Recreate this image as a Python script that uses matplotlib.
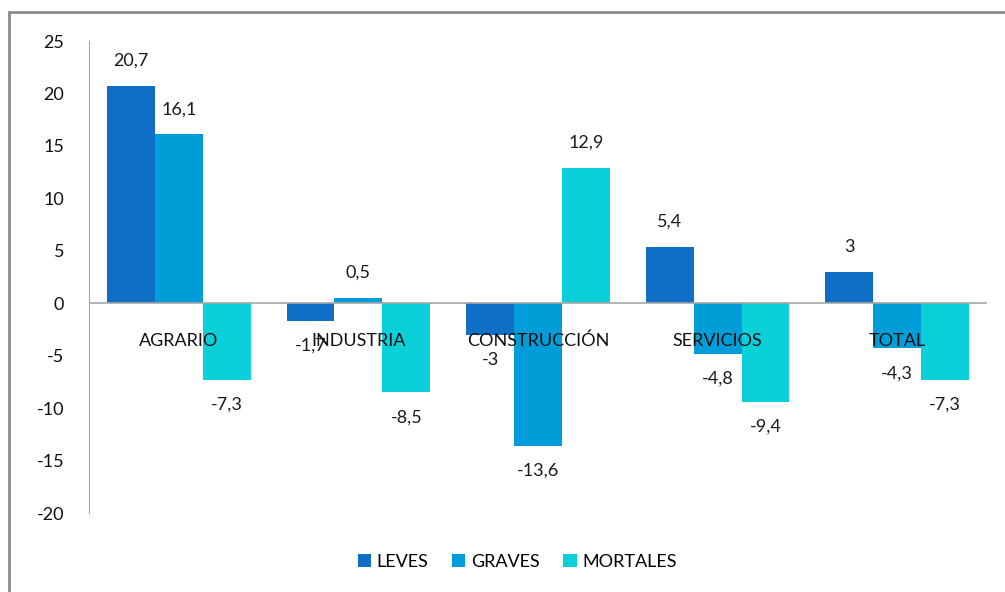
import matplotlib.pyplot as plt
from matplotlib.patches import Rectangle
import numpy as np

sectores = ['AGRARIO', 'INDUSTRIA', 'CONSTRUCCIÓN', 'SERVICIOS', 'TOTAL']
leves = [20.7, -1.7, -3, 5.4, 3]
graves = [16.1, 0.5, -13.6, -4.8, -4.3]
mortales = [-7.3, -8.5, 12.9, -9.4, -7.3]
series = ['LEVES', 'GRAVES', 'MORTALES']
colores = ['#0F6FC6', '#009DD9', '#0BD0D9']

def etiqueta(v):
    return ('%g' % v).replace('.', ',')

plt.rcParams['font.family'] = ['Lato', 'DejaVu Sans']
plt.rcParams['axes.unicode_minus'] = False

fig = plt.figure(figsize=(10.05, 5.92), dpi=100)
ax = fig.add_axes([89/1005, 1 - 513/592, (987 - 89)/1005, (513 - 41)/592])

# marco gris del grafico
fig.patches.append(Rectangle((9/1005, -0.1), 1.1, 1 - 12/592 + 0.1, transform=fig.transFigure,
                             fill=False, edgecolor='#8C8C8C', linewidth=2, zorder=0))

x = np.arange(len(sectores))
w = 0.8 / 3
ptpy = (513 - 41) / 45.0  # pixeles por unidad
for i, (nombre, datos) in enumerate(zip(series, [leves, graves, mortales])):
    pos = x + (i - 1) * w
    ax.bar(pos, datos, w, color=colores[i], label=nombre, zorder=2)
    for p, v in zip(pos, datos):
        off = 25 / ptpy
        yy = v + off if v >= 0 else v - off
        ax.text(p, yy, etiqueta(v), ha='center', va='center', fontsize=13, color='#1a1a1a', zorder=5)

for xi, s in zip(x, sectores):
    ax.text(xi, -3.6, s, ha='center', va='center', fontsize=13, color='#111111', zorder=6)

ax.axhline(0, color='#A6A6A6', linewidth=1.2, zorder=3)
ax.set_xlim(-0.5, len(sectores) - 0.5)
ax.set_ylim(-20, 25)
ax.set_yticks(range(-20, 30, 5))
ax.tick_params(axis='y', length=0, pad=18, labelsize=13, labelcolor='#111111')
ax.set_xticks([])
for lado in ['top', 'right', 'bottom']:
    ax.spines[lado].set_visible(False)
ax.spines['left'].set_color('#A6A6A6')

fig.legend(loc='center', bbox_to_anchor=(517/1005, 1 - 562/592), ncol=3, frameon=False,
           fontsize=13, handlelength=0.75, handleheight=0.75, handletextpad=0.3, columnspacing=1.3)

fig.savefig('out.png', dpi=100)
